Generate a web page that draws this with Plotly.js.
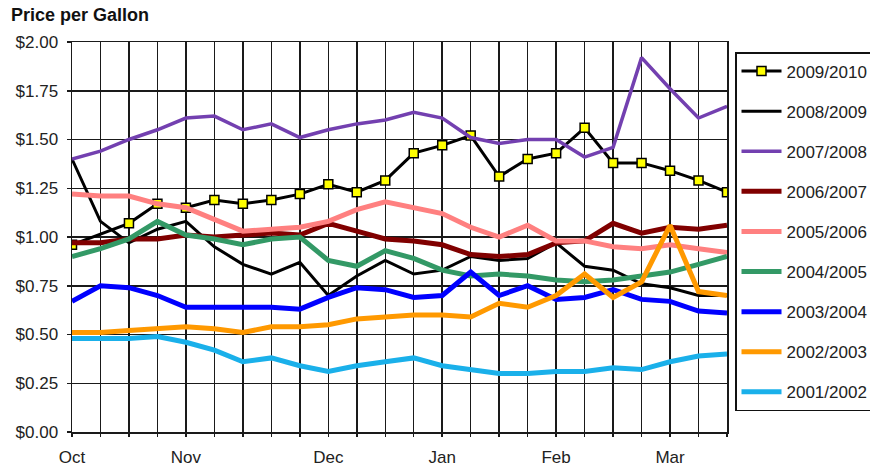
<!DOCTYPE html>
<html>
<head>
<meta charset="utf-8">
<script src="https://cdn.plot.ly/plotly-3.0.1.min.js"></script>
<style>html,body{margin:0;padding:0;background:#fff;}#chart{width:870px;height:470px;}</style>
</head>
<body>
<div id="chart"></div>
<script>
// Week positions along the season (Oct .. Mar), with month labels
const weekLabels = ["Oct","","","","Nov","","","","","Dec","","","","Jan","","","","Feb","","","","Mar","",""];

const seasons = ["2009/2010","2008/2009","2007/2008","2006/2007","2005/2006","2004/2005","2003/2004","2002/2003","2001/2002"];

const s2009_2010 = [0.96, null, 1.07, 1.17, 1.15, 1.19, 1.17, 1.19, 1.22, 1.27, 1.23, 1.29, 1.43, 1.47, 1.52, 1.31, 1.40, 1.43, 1.56, 1.38, 1.38, 1.34, 1.29, 1.23];
const s2008_2009 = [1.40, 1.08, 0.97, 1.04, 1.08, 0.95, 0.86, 0.81, 0.87, 0.70, 0.80, 0.88, 0.81, 0.83, 0.90, 0.88, 0.89, 0.97, 0.85, 0.83, 0.76, 0.74, 0.70, 0.70];
const s2007_2008 = [1.40, 1.44, 1.50, 1.55, 1.61, 1.62, 1.55, 1.58, 1.51, 1.55, 1.58, 1.60, 1.64, 1.61, 1.51, 1.48, 1.50, 1.50, 1.41, 1.46, 1.92, 1.76, 1.61, 1.67];
const s2006_2007 = [0.97, 0.97, 0.99, 0.99, 1.01, 1.00, 1.01, 1.02, 1.01, 1.07, 1.03, 0.99, 0.98, 0.96, 0.91, 0.90, 0.91, 0.97, 0.98, 1.07, 1.02, 1.05, 1.04, 1.06];
const s2005_2006 = [1.22, 1.21, 1.21, 1.17, 1.15, 1.09, 1.03, 1.04, 1.05, 1.08, 1.14, 1.18, 1.15, 1.12, 1.05, 1.00, 1.06, 0.98, 0.98, 0.95, 0.94, 0.96, 0.94, 0.92];
const s2004_2005 = [0.90, 0.94, 0.99, 1.08, 1.01, 0.99, 0.96, 0.99, 1.00, 0.88, 0.85, 0.93, 0.89, 0.83, 0.80, 0.81, 0.80, 0.78, 0.77, 0.78, 0.80, 0.82, 0.86, 0.90];
const s2003_2004 = [0.67, 0.75, 0.74, 0.70, 0.64, 0.64, 0.64, 0.64, 0.63, 0.69, 0.74, 0.73, 0.69, 0.70, 0.82, 0.70, 0.75, 0.68, 0.69, 0.73, 0.68, 0.67, 0.62, 0.61];
const s2002_2003 = [0.51, 0.51, 0.52, 0.53, 0.54, 0.53, 0.51, 0.54, 0.54, 0.55, 0.58, 0.59, 0.60, 0.60, 0.59, 0.66, 0.64, 0.70, 0.81, 0.69, 0.77, 1.06, 0.72, 0.70];
const s2001_2002 = [0.48, 0.48, 0.48, 0.49, 0.46, 0.42, 0.36, 0.38, 0.34, 0.31, 0.34, 0.36, 0.38, 0.34, 0.32, 0.30, 0.30, 0.31, 0.31, 0.33, 0.32, 0.36, 0.39, 0.40];

const seriesValues = [s2009_2010, s2008_2009, s2007_2008, s2006_2007, s2005_2006, s2004_2005, s2003_2004, s2002_2003, s2001_2002];
const colors = ["#000000","#000000","#7340b0","#800000","#ff8080","#339966","#0000ff","#ff9900","#1ab0ea"];
const widths = [3, 3, 3.5, 5, 5, 5, 5, 5, 5];

const xIdx = weekLabels.map((_, i) => i);
const FONT = "Liberation Sans, Arial, sans-serif";

const traces = seasons.map((name, k) => {
  const t = {
    type: "scatter",
    mode: k === 0 ? "lines+markers" : "lines",
    name: name,
    legendgroup: name,
    x: xIdx,
    y: seriesValues[k],
    connectgaps: true,
    line: {color: colors[k], width: widths[k]},
    hoverinfo: "skip"
  };
  if (k === 0) {
    t.marker = {symbol: "square", size: 9, color: "#ffff00", line: {color: "#000", width: 1.5}};
  }
  return t;
});

const layout = {
  width: 870, height: 470,
  margin: {l: 72, r: 143, t: 42, b: 38, autoexpand: false},
  paper_bgcolor: "#fff", plot_bgcolor: "#fff",
  font: {family: FONT, size: 17, color: "#222"},
  showlegend: true,
  title: {
    text: "<b>Price per Gallon</b>",
    font: {family: FONT, size: 18, color: "#111"},
    x: 11/870, xref: "container", xanchor: "left",
    y: 1 - 15/470, yref: "container", yanchor: "middle"
  },
  xaxis: {
    range: [0, xIdx.length - 1],
    tickvals: xIdx, ticktext: weekLabels,
    showgrid: true, gridcolor: "#1a1a1a", gridwidth: 1.5,
    showline: true, linecolor: "#1a1a1a", linewidth: 1.5, mirror: true,
    ticks: "outside", ticklen: 3, tickcolor: "#1a1a1a", tickwidth: 1.5,
    ticklabelstandoff: 6,
    zeroline: false, fixedrange: true,
    tickfont: {family: FONT, size: 17, color: "#222"}
  },
  yaxis: {
    range: [0, 2], dtick: 0.25, tick0: 0, tickformat: "$.2f",
    showgrid: true, gridcolor: "#1a1a1a", gridwidth: 1.5,
    showline: true, linecolor: "#1a1a1a", linewidth: 1.5, mirror: true,
    ticks: "outside", ticklen: 4, tickcolor: "#1a1a1a", tickwidth: 1.5,
    ticklabelstandoff: 5,
    zeroline: false, fixedrange: true,
    tickfont: {family: FONT, size: 17, color: "#222"}
  },
  legend: {
    x: (735 - 72) / 655, xanchor: "left",
    y: 1 - (52 - 42) / 390, yanchor: "top",
    bordercolor: "#111", borderwidth: 1.5, bgcolor: "#fff",
    traceorder: "grouped", tracegroupgap: 15,
    itemwidth: 40,
    font: {family: FONT, size: 17, color: "#222"}
  }
};

Plotly.newPlot("chart", traces, layout, {displayModeBar: false, staticPlot: true});
</script>
</body>
</html>
